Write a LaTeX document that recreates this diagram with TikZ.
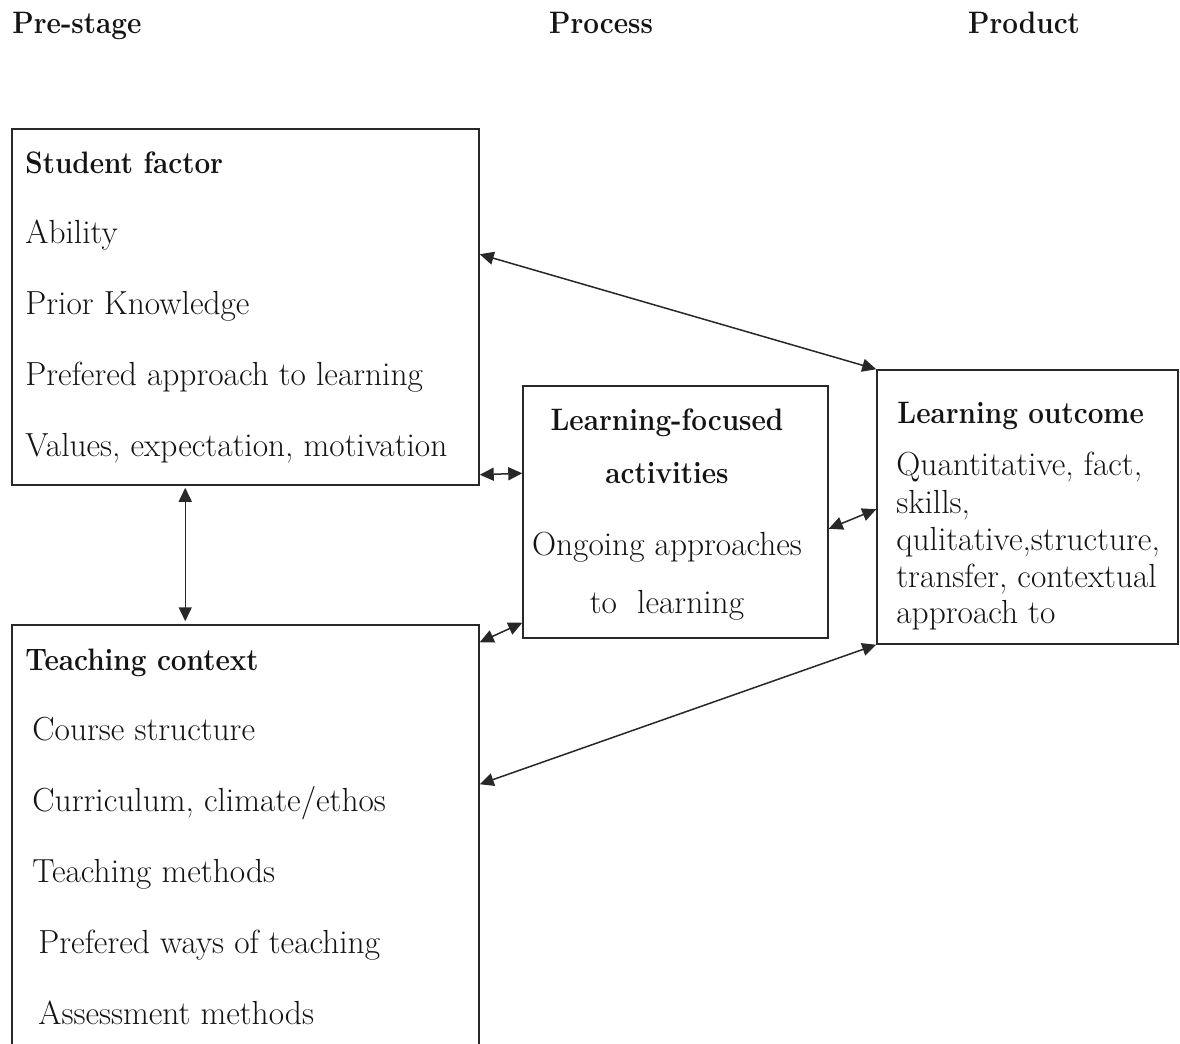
\documentclass[tikz,border=0pt]{standalone}
\usepackage{graphicx}
\usetikzlibrary{arrows.meta,fit,calc}
\definecolor{ink}{RGB}{40,40,40}
\definecolor{tink}{RGB}{20,20,20}
\newcommand{\bxt}[1]{\scalebox{0.9}[1]{#1}}
\begin{document}
\begin{tikzpicture}[x=0.5pt,y=-0.5pt,
  boxst/.style={draw=ink,line width=0.75pt,inner sep=0pt,rectangle},
  txt/.style={anchor=base west,inner sep=0pt,text=tink,font=\fontsize{16.7}{19}\selectfont},
  btxt/.style={txt,font=\fontsize{15.5}{18}\selectfont\bfseries},
  ctxt/.style={txt,anchor=base},
  cbtxt/.style={btxt,anchor=base},
  dbl/.style={draw=ink,line width=0.75pt,{Triangle[length=7pt,width=6.5pt]}-{Triangle[length=7pt,width=6.5pt]}}]
\clip (0,0) rectangle (1180,1044);
\fill[white] (0,0) rectangle (1180,1044);
% headers
\node[btxt] (h1) at (12,33) {\bxt{Pre-stage}};
\node[cbtxt] (h2) at (601,33) {\bxt{Process}};
\node[cbtxt] (h3) at (1024,33) {\bxt{Product}};
% boxes
\node[boxst,fit={(12,129)(479,485)}] (sf) {};
\node[boxst,fit={(12,625)(479,1070)}] (tc) {};
\node[boxst,fit={(523,386)(828,638)}] (lf) {};
\node[boxst,fit={(877,370)(1178,644)}] (lo) {};
% student factor
\node[btxt] (s0) at (25,173) {\bxt{Student factor}};
\node[txt] (s1) at (25,243) {Ability};
\node[txt] (s2) at (25,314) {Prior Knowledge};
\node[txt] (s3) at (25,385) {Prefered approach to learning};
\node[txt] (s4) at (25,456) {Values, expectation, motivation};
% teaching context
\node[btxt] (t0) at (25,670) {\bxt{Teaching context}};
\node[txt] (t1) at (32,740) {Course structure};
\node[txt] (t2) at (32,811) {Curriculum, climate/ethos};
\node[txt] (t3) at (32,882) {Teaching methods};
\node[txt] (t4) at (38,953) {Prefered ways of teaching};
\node[txt] (t5) at (38,1024) {Assessment methods};
% learning-focused
\node[cbtxt] (l0) at (667,430) {\bxt{Learning-focused}};
\node[cbtxt] (l1) at (667,483) {\bxt{activities}};
\node[ctxt] (l2) at (667,555) {Ongoing approaches};
\node[ctxt] (l3) at (667,613) {to\ \ learning};
% learning outcome
\node[btxt] (o0) at (897,423) {\bxt{Learning outcome}};
\node[txt] (o1) at (896,475) {Quantitative, fact,};
\node[txt] (o2) at (896,513) {skills,};
\node[txt] (o3) at (896,550) {qulitative,structure,};
\node[txt] (o4) at (896,587) {transfer, contextual};
\node[txt] (o5) at (896,623) {approach to};
% connectors
\draw[dbl] ($(sf.north east)+(0,126)$) -- (lo.north west);
\draw[dbl] ($(sf.south east)+(0,-11)$) -- ($(lf.north west)+(0,88)$);
\draw[dbl] ($(tc.north east)+(0,18)$) -- ($(lf.south west)+(0,-16)$);
\draw[dbl] ($(lf.south east)+(0,-110)$) -- ($(lo.north west)+(0,140)$);
\draw[dbl] ($(tc.north east)+(0,160)$) -- (lo.south west);
\draw[dbl] ($(sf.south west)+(174,2)$) -- ($(tc.north west)+(174,-3)$);
\end{tikzpicture}
\end{document}
